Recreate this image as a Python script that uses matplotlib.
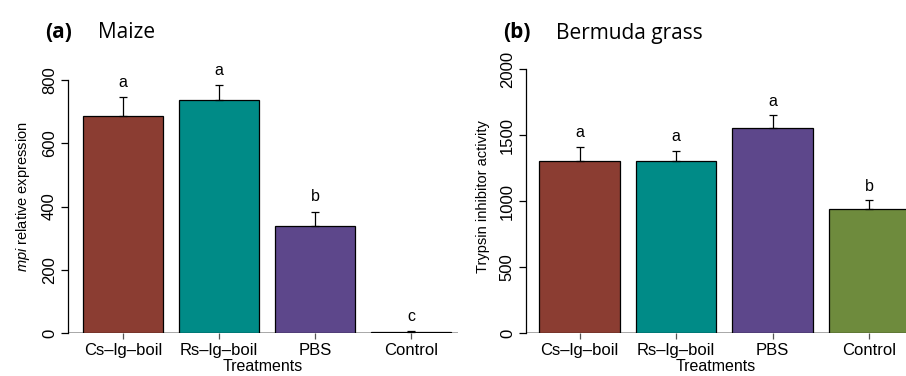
import matplotlib
matplotlib.use("Agg")
import matplotlib.pyplot as plt
import numpy as np

plt.rcParams['font.family'] = ['Liberation Sans', 'DejaVu Sans']
plt.rcParams['mathtext.fontset'] = 'custom'
plt.rcParams['mathtext.it'] = 'Liberation Sans:italic'
plt.rcParams['mathtext.rm'] = 'Liberation Sans'

treatments = ['Cs\u2013lg\u2013boil', 'Rs\u2013lg\u2013boil', 'PBS', 'Control']
colors = ['#8B3D32', '#008B87', '#5D478B', '#6E8B3D']

maize_mean = [687, 736, 338, 2]
maize_err = [58, 47, 45, 3]
maize_letters = ['a', 'a', 'b', 'c']

bermuda_mean = [1300, 1300, 1550, 940]
bermuda_err = [110, 80, 100, 65]
bermuda_letters = ['a', 'a', 'a', 'b']

W, H = 906, 376
fig = plt.figure(figsize=(W / 100, H / 100), dpi=100)


def px_axes(left, right, top, bottom):
    return fig.add_axes([left / W, 1 - bottom / H, (right - left) / W, (bottom - top) / H])


def panel(ax, means, errs, letters, ymax_tick, ticks, ylabel, xlim, ylim, letter_off):
    x = np.arange(len(means))
    ax.bar(x, means, width=0.835, color=colors, edgecolor='black', linewidth=0.9, zorder=2)
    ax.errorbar(x, means, yerr=[np.zeros(len(errs)), errs], fmt='none',
                ecolor='black', elinewidth=0.9, capsize=3, capthick=0.9, zorder=3)
    for xi, m, e, l in zip(x, means, errs, letters):
        ax.annotate(l, (xi, m + e), xytext=(0, letter_off), textcoords='offset points',
                    ha='center', va='center', fontsize=11.5, annotation_clip=False)
    ax.axhline(0, color='#999999', linewidth=1.2, zorder=1)
    ax.set_xlim(*xlim)
    ax.set_ylim(*ylim)
    for s in ['top', 'right', 'bottom']:
        ax.spines[s].set_visible(False)
    ax.spines['left'].set_bounds(0, ymax_tick)
    ax.spines['left'].set_linewidth(0.9)
    ax.set_yticks(ticks)
    ax.set_yticklabels([str(t) for t in ticks], rotation=90, va='center', fontsize=12)
    ax.tick_params(axis='y', length=5, width=0.9, pad=3)
    ax.set_xticks(x)
    ax.set_xticklabels(treatments, fontsize=12)
    ax.tick_params(axis='x', length=4, width=0.9, color='#555555', pad=3)
    ax.set_xlabel('Treatments', fontsize=11.5, labelpad=1)
    ax.set_ylabel(ylabel, fontsize=10.5, labelpad=7)


# panel a: axis at px 68, baseline px 333, 800 at px 80
sa = (333 - 80) / 800
axa = px_axes(68, 458, 60, 333)
panel(axa, maize_mean, maize_err, maize_letters, 800, [0, 200, 400, 600, 800],
      '$\\it{mpi}$ relative expression',
      (-55 / 96, (458 - 123) / 96), (0, (333 - 60) / sa), 11)

# panel b: axis at px 526, baseline px 333, 2000 at px 69
sb = (333 - 69) / 2000
axb = px_axes(526, 906, 60, 333)
panel(axb, bermuda_mean, bermuda_err, bermuda_letters, 2000, [0, 500, 1000, 1500, 2000],
      'Trypsin inhibitor activity',
      (-53.5 / 96.5, (906 - 579.5) / 96.5), (0, (333 - 60) / sb), 10)

title_font = ['Open Sans', 'DejaVu Sans']
fig.text(45 / W, 1 - 33 / H, '(a)', fontsize=15, fontweight='bold', family=title_font, va='center')
fig.text(98 / W, 1 - 33 / H, 'Maize', fontsize=15, family=title_font, va='center')
fig.text(503 / W, 1 - 33 / H, '(b)', fontsize=15, fontweight='bold', family=title_font, va='center')
fig.text(556 / W, 1 - 33 / H, 'Bermuda grass', fontsize=15, family=title_font, va='center')

fig.savefig('out.png', dpi=100)
